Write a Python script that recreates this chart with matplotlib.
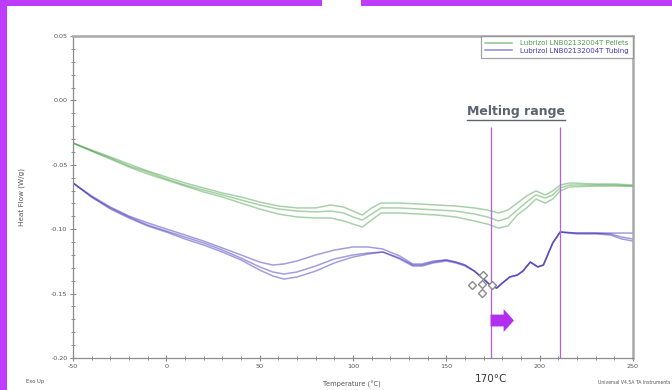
import matplotlib
matplotlib.use("Agg")
import matplotlib.pyplot as plt
from matplotlib.ticker import MultipleLocator, FormatStrFormatter
from matplotlib.patches import FancyArrow, Rectangle
from matplotlib.lines import Line2D

plt.rcParams['axes.unicode_minus'] = False

# ---------------- data ----------------
temp_pellets = [-50, -40, -30, -20, -10, 0, 10, 20, 30, 40, 50, 60, 70, 80, 88, 95, 100, 105, 110, 115,
                125, 135, 145, 155, 165, 172, 178, 183, 188, 193, 198, 203, 207, 211, 216, 230, 240, 250]
pellets_run1 = [-0.0331, -0.0385, -0.0439, -0.0494, -0.0548, -0.0595, -0.0641, -0.0680, -0.0719, -0.0750,
                -0.0789, -0.0820, -0.0835, -0.0835, -0.0812, -0.0828, -0.0859, -0.0890, -0.0835, -0.0797,
                -0.0797, -0.0804, -0.0812, -0.0820, -0.0835, -0.0851, -0.0874, -0.0851, -0.0797, -0.0742,
                -0.0703, -0.0734, -0.0703, -0.0657, -0.0641, -0.0649, -0.0649, -0.0657]
pellets_run2 = [-0.0331, -0.0393, -0.0447, -0.0509, -0.0556, -0.0610, -0.0657, -0.0696, -0.0734, -0.0773,
                -0.0812, -0.0843, -0.0859, -0.0866, -0.0859, -0.0874, -0.0905, -0.0929, -0.0882, -0.0835,
                -0.0835, -0.0843, -0.0851, -0.0859, -0.0882, -0.0905, -0.0936, -0.0913, -0.0851, -0.0789,
                -0.0734, -0.0758, -0.0734, -0.0680, -0.0657, -0.0657, -0.0657, -0.0665]
pellets_run3 = [-0.0331, -0.0393, -0.0455, -0.0517, -0.0571, -0.0618, -0.0665, -0.0711, -0.0750, -0.0797,
                -0.0843, -0.0882, -0.0905, -0.0913, -0.0913, -0.0936, -0.0960, -0.0983, -0.0929, -0.0874,
                -0.0874, -0.0882, -0.0890, -0.0905, -0.0936, -0.0960, -0.0991, -0.0975, -0.0890, -0.0835,
                -0.0766, -0.0797, -0.0766, -0.0703, -0.0672, -0.0665, -0.0665, -0.0665]

temp_tubing = [-50, -40, -30, -20, -10, 0, 10, 20, 30, 40, 50, 57, 63, 70, 80, 90, 100, 108, 116, 125,
               132, 137, 143, 150, 155, 160, 165, 170, 174, 177, 180, 184, 188, 191, 195, 199, 202, 207, 211, 220,
               230, 238, 244, 250]
tubing_run1 = [-0.0641, -0.0742, -0.0828, -0.0898, -0.0951, -0.0998, -0.1045, -0.1092, -0.1146, -0.1200,
               -0.1255, -0.1278, -0.1270, -0.1247, -0.1200, -0.1162, -0.1138, -0.1138, -0.1154, -0.1208,
               -0.1270, -0.1270, -0.1247, -0.1239, -0.1255, -0.1278, -0.1325, -0.1387, -0.1441, -0.1457,
               -0.1418, -0.1371, -0.1356, -0.1325, -0.1255, -0.1293, -0.1278, -0.1107, -0.1022, -0.1030,
               -0.1030, -0.1030, -0.1030, -0.1030]
tubing_run2 = [-0.0641, -0.0750, -0.0835, -0.0905, -0.0967, -0.1014, -0.1061, -0.1107, -0.1162, -0.1224,
               -0.1293, -0.1332, -0.1348, -0.1332, -0.1286, -0.1231, -0.1200, -0.1185, -0.1177, -0.1224,
               -0.1278, -0.1278, -0.1255, -0.1239, -0.1255, -0.1278, -0.1325, -0.1387, -0.1441, -0.1457,
               -0.1418, -0.1371, -0.1356, -0.1325, -0.1255, -0.1293, -0.1278, -0.1107, -0.1022, -0.1030,
               -0.1030, -0.1037, -0.1061, -0.1076]
tubing_run3 = [-0.0641, -0.0750, -0.0843, -0.0913, -0.0975, -0.1022, -0.1076, -0.1123, -0.1177, -0.1239,
               -0.1317, -0.1363, -0.1387, -0.1371, -0.1325, -0.1262, -0.1216, -0.1193, -0.1177, -0.1231,
               -0.1286, -0.1286, -0.1262, -0.1247, -0.1262, -0.1286, -0.1325, -0.1387, -0.1441, -0.1457,
               -0.1418, -0.1371, -0.1356, -0.1325, -0.1255, -0.1293, -0.1278, -0.1107, -0.1022, -0.1037,
               -0.1037, -0.1045, -0.1076, -0.1092]

onset_temp = [169.6, 163.7, 169.1, 174.5, 169.3]
onset_flow = [-0.1356, -0.1433, -0.1425, -0.1433, -0.1495]

melt_start, melt_end = 173.7, 210.7
legend_labels = ["Lubrizol LNB02132004T Pellets", "Lubrizol LNB02132004T Tubing"]

# ---------------- figure ----------------
W, H = 672, 390
fig = plt.figure(figsize=(W / 100, H / 100), dpi=100)
fig.patch.set_facecolor("white")

purple = "#bf3cfd"
# slide decoration bars
fig.add_artist(Rectangle((0, 0), 6.5 / W, 1, transform=fig.transFigure, color=purple, lw=0))
fig.add_artist(Rectangle((0, 1 - 5.5 / H), 322 / W, 5.5 / H, transform=fig.transFigure, color=purple, lw=0))
fig.add_artist(Rectangle((361 / W, 1 - 5.5 / H), 1, 5.5 / H, transform=fig.transFigure, color=purple, lw=0))

ax = fig.add_axes([73 / W, 1 - 358 / H, 560 / W, 322 / H])
ax.set_xlim(-50, 250)
ax.set_ylim(-0.20, 0.05)

green = "#3f9a3f"
blue = "#3527b5"
for run in (pellets_run1, pellets_run2, pellets_run3):
    ax.plot(temp_pellets, run, color=green, lw=1.1, alpha=0.45, solid_capstyle="round")
for run in (tubing_run1, tubing_run2, tubing_run3):
    ax.plot(temp_tubing, run, color=blue, lw=1.1, alpha=0.45, solid_capstyle="round")

ax.plot(onset_temp, onset_flow, linestyle="none", marker="D", markersize=4.2,
        markerfacecolor="white", markeredgecolor="#8a8a8a", markeredgewidth=1.0, zorder=5)

# melting range lines
ax.vlines([melt_start, melt_end], -0.20, -0.0205, colors="#b65ee6", lw=0.9, zorder=4)

# arrow
ax.add_patch(FancyArrow(melt_start, -0.1709, 7.0, 0, width=0.0092, head_width=0.0178,
                        head_length=5.5, length_includes_head=False, color="#b32ff0", lw=0, zorder=6))

# spines
for s in ("left", "bottom"):
    ax.spines[s].set_color("#8c8c8c")
    ax.spines[s].set_linewidth(0.9)
for s in ("top", "right"):
    ax.spines[s].set_color("#a9a9a9")
    ax.spines[s].set_linewidth(1.8)

ax.xaxis.set_major_locator(MultipleLocator(50))
ax.xaxis.set_minor_locator(MultipleLocator(10))
ax.yaxis.set_major_locator(MultipleLocator(0.05))
ax.yaxis.set_minor_locator(MultipleLocator(0.01))
ax.yaxis.set_major_formatter(FormatStrFormatter("%.2f"))
ax.tick_params(which="major", direction="inout", length=4, width=0.8, color="#8c8c8c",
               labelsize=4.6, labelcolor="#555555", pad=2)
ax.tick_params(which="minor", direction="inout", length=2.5, width=0.7, color="#8c8c8c")
ax.tick_params(top=False, right=False, which="both")

ax.set_ylabel("Heat Flow (W/g)", fontsize=5.2, color="#555555", labelpad=14)
ax.yaxis.set_label_coords(-0.086, 0.5)

# legend
h1 = Line2D([], [], color="#8cc48c", lw=1.1)
h2 = Line2D([], [], color="#8e88d4", lw=1.1)
leg = ax.legend([h1, h2], legend_labels, loc="upper right", bbox_to_anchor=(1.0, 1.0),
                borderaxespad=0.0, fontsize=5.0, frameon=True, fancybox=False,
                handlelength=3.8, handletextpad=1.2, borderpad=0.6, labelspacing=0.2)
leg.get_frame().set_edgecolor("#8c8c8c")
leg.get_frame().set_linewidth(0.9)
for t, c in zip(leg.get_texts(), ["#4f9f4f", "#4035b8"]):
    t.set_color(c)

# texts
fig.text(35 / W, 1 - 381 / H, "Exo Up", fontsize=3.8, color="#555555", ha="center", va="center")
fig.text(352 / W, 1 - 384 / H, "Temperature (°C)", fontsize=4.8, color="#555555", ha="center", va="center")
fig.text(670 / W, 1 - 383 / H, "Universal V4.5A TA Instruments", fontsize=3.3, color="#555555",
         ha="right", va="center")
fig.text(491 / W, 1 - 379 / H, "170°C", fontsize=7.5, color="#3a3a3a", ha="center", va="center")

mt = fig.text(516 / W, 1 - 112 / H, "Melting range", fontsize=9.0, fontweight="bold",
              color="#5b6470", ha="center", va="center")
fig.canvas.draw()
bb = mt.get_window_extent()
uy = bb.y0 - 1.0
fig.add_artist(Line2D([bb.x0 / W, bb.x1 / W], [uy / H, uy / H], transform=fig.transFigure,
                      color="#5b6470", lw=1.0))

fig.savefig("out.png", dpi=100, facecolor="white")
